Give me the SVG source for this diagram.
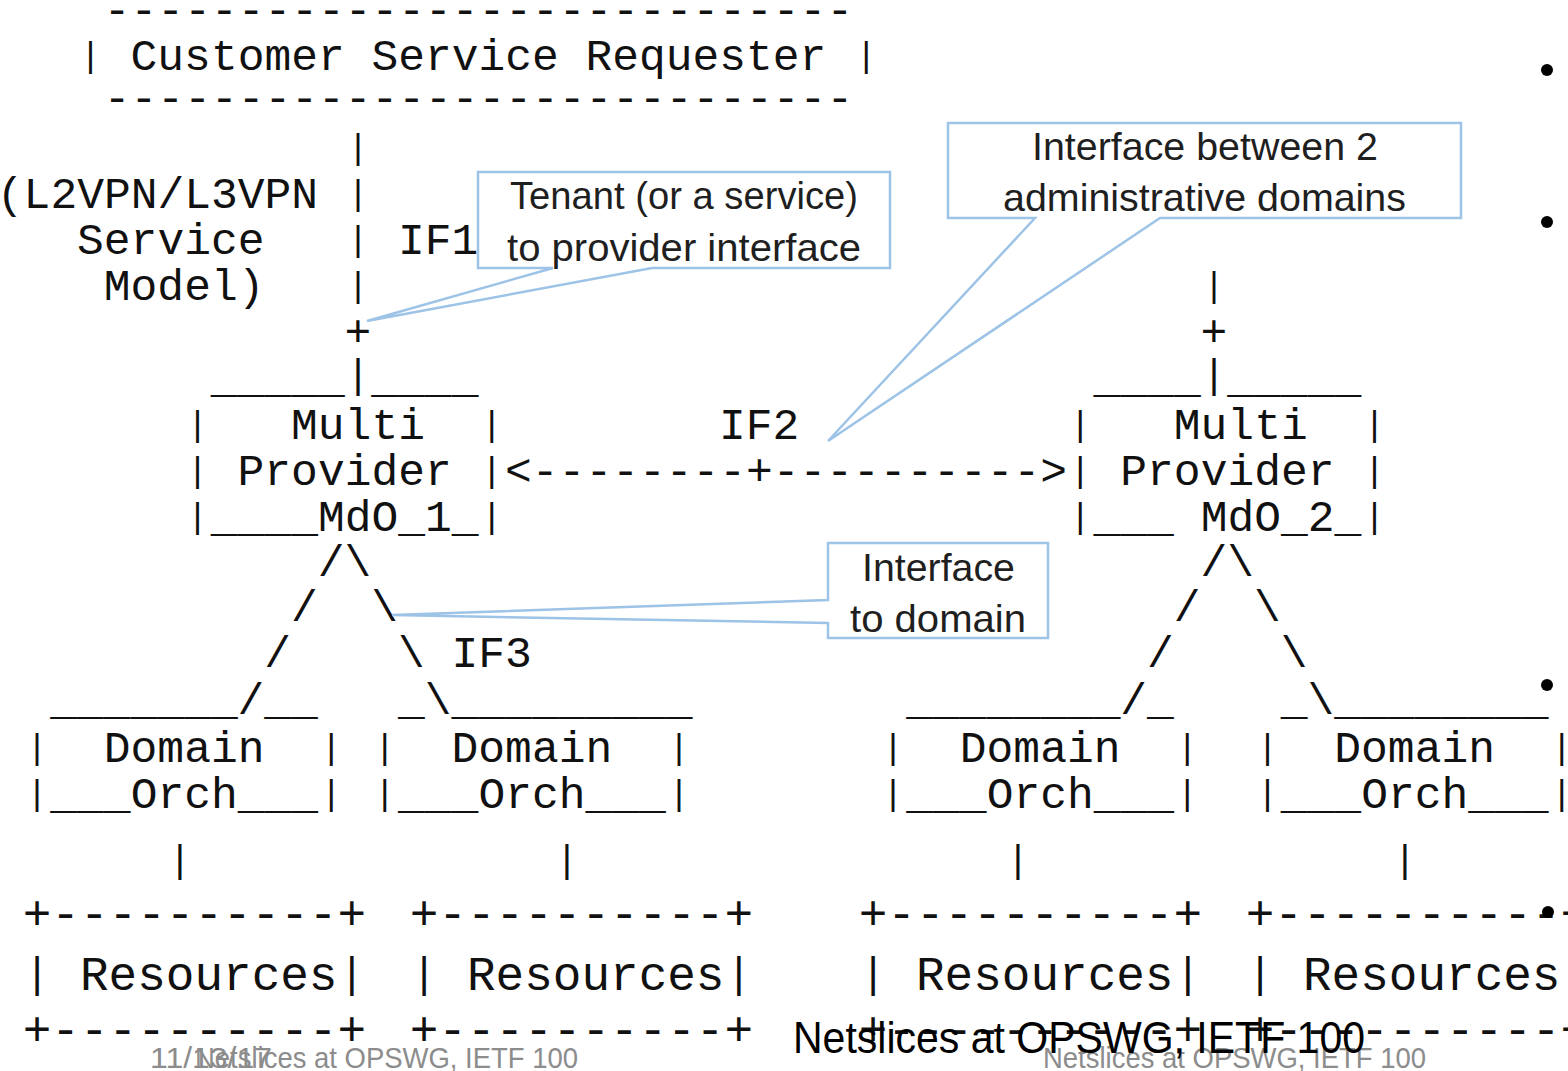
<svg xmlns="http://www.w3.org/2000/svg" width="1568" height="1071" viewBox="0 0 1568 1071">
<style>
.m{font-family:"Liberation Mono","Courier New",monospace;font-size:44.6px;fill:#111;white-space:pre}
.mb{font-family:"Liberation Mono","Courier New",monospace;font-size:47.7px;fill:#111;white-space:pre}
.p{font-family:"Liberation Mono","Courier New",monospace;font-size:35px;fill:#111;text-anchor:middle}
.pl{font-family:"Liberation Mono","Courier New",monospace;font-size:40px;fill:#111;text-anchor:middle}
.pb{font-family:"Liberation Mono","Courier New",monospace;font-size:42px;fill:#111;text-anchor:middle}
.ps{font-family:"Liberation Mono","Courier New",monospace;font-size:38px;fill:#111;text-anchor:middle}
.cl{fill:#fff;stroke:#9dc3e6;stroke-width:2.5}
.ct{font-family:"Liberation Sans Narrow","Liberation Sans",Arial,sans-serif;font-size:39px;fill:#1f1f1f}
.fg{font-family:"Liberation Sans Narrow","Liberation Sans",Arial,sans-serif;font-size:30px;fill:#8c8c8c}
.fb{font-family:"Liberation Sans Narrow","Liberation Sans",Arial,sans-serif;font-size:45px;fill:#000}
</style>
<rect width="1568" height="1071" fill="#fff"/>

<g id="n-requester">
<text class="m" x="103.85" y="24">----------------------------</text>
<text class="p" x="90.5" y="67">|</text>
<text class="m" x="130.6" y="70">Customer Service Requester</text>
<text class="p" x="866.2" y="67">|</text>
<text class="m" x="103.85" y="112">----------------------------</text>
</g>

<g id="n-service-model">
<text class="m" x="-3.15" y="208">(L2VPN/L3VPN</text>
<text class="m" x="77.1" y="254">Service</text>
<text class="m" x="103.85" y="300">Model)</text>
</g>

<g id="n-mdo1">
<text class="m" x="210.85" y="392">_____</text>
<text class="m" x="371.35" y="392">____</text>
<text class="p" x="197.5" y="436">|</text>
<text class="m" x="291.1" y="439">Multi</text>
<text class="p" x="491.7" y="436">|</text>
<text class="p" x="197.5" y="482">|</text>
<text class="m" x="237.6" y="485">Provider</text>
<text class="p" x="491.7" y="482">|</text>
<text class="p" x="197.5" y="528">|</text>
<text class="m" x="210.85" y="531">____MdO_1_</text>
<text class="p" x="491.7" y="528">|</text>
</g>

<g id="n-mdo2">
<text class="m" x="1093.6" y="392">____</text>
<text class="m" x="1227.35" y="392">_____</text>
<text class="p" x="1080.2" y="436">|</text>
<text class="m" x="1173.85" y="439">Multi</text>
<text class="p" x="1374.5" y="436">|</text>
<text class="p" x="1080.2" y="482">|</text>
<text class="m" x="1120.35" y="485">Provider</text>
<text class="p" x="1374.5" y="482">|</text>
<text class="p" x="1080.2" y="528">|</text>
<text class="m" x="1093.6" y="531" xml:space="preserve">___ MdO_2_</text>
<text class="p" x="1374.5" y="528">|</text>
</g>

<g id="n-domain1">
<text class="m" x="50.35" y="714">_______</text>
<text class="m" x="264.35" y="714">__</text>
<text class="p" x="37" y="759">|</text>
<text class="m" x="103.85" y="762">Domain</text>
<text class="p" x="331.2" y="759">|</text>
<text class="p" x="37" y="805">|</text>
<text class="m" x="50.35" y="808">___Orch___</text>
<text class="p" x="331.2" y="805">|</text>
</g>
<g id="n-domain2">
<text class="m" x="398.1" y="714">_</text>
<text class="m" x="451.6" y="714">_________</text>
<text class="p" x="384.7" y="759">|</text>
<text class="m" x="451.6" y="762">Domain</text>
<text class="p" x="679" y="759">|</text>
<text class="p" x="384.7" y="805">|</text>
<text class="m" x="398.1" y="808">___Orch___</text>
<text class="p" x="679" y="805">|</text>
</g>
<g id="n-domain3">
<text class="m" x="906.35" y="714">________</text>
<text class="m" x="1147.1" y="714">_</text>
<text class="p" x="893" y="759">|</text>
<text class="m" x="959.85" y="762">Domain</text>
<text class="p" x="1187.2" y="759">|</text>
<text class="p" x="893" y="805">|</text>
<text class="m" x="906.35" y="808">___Orch___</text>
<text class="p" x="1187.2" y="805">|</text>
</g>
<g id="n-domain4">
<text class="m" x="1280.85" y="714">_</text>
<text class="m" x="1334.35" y="714">________</text>
<text class="p" x="1267.5" y="759">|</text>
<text class="m" x="1334.35" y="762">Domain</text>
<text class="p" x="1561.7" y="759">|</text>
<text class="p" x="1267.5" y="805">|</text>
<text class="m" x="1280.85" y="808">___Orch___</text>
<text class="p" x="1561.7" y="805">|</text>
</g>

<g id="n-resources1">
<text class="mb" x="22.7" y="929">+----------+</text>
<text class="pb" x="37" y="987">|</text>
<text class="mb" x="79.94" y="990">Resources</text>
<text class="pb" x="351.8" y="987">|</text>
<text class="mb" x="22.7" y="1045">+----------+</text>
</g>
<g id="n-resources2">
<text class="mb" x="409.7" y="929">+----------+</text>
<text class="pb" x="424" y="987">|</text>
<text class="mb" x="466.94" y="990">Resources</text>
<text class="pb" x="738.8" y="987">|</text>
<text class="mb" x="409.7" y="1045">+----------+</text>
</g>
<g id="n-resources3">
<text class="mb" x="858.7" y="929">+----------+</text>
<text class="pb" x="873" y="987">|</text>
<text class="mb" x="915.94" y="990">Resources</text>
<text class="pb" x="1187.8" y="987">|</text>
<text class="mb" x="858.7" y="1045">+----------+</text>
</g>
<g id="n-resources4">
<text class="mb" x="1245.7" y="929">+----------+</text>
<text class="pb" x="1260" y="987">|</text>
<text class="mb" x="1302.94" y="990">Resources</text>
<text class="mb" x="1245.7" y="1045">+----------+</text>
</g>

<g id="connectors">
<text class="p" x="358" y="159">|</text>
<text class="p" x="358" y="205">|</text>
<text class="p" x="358" y="251">|</text>
<text class="p" x="358" y="297">|</text>
<text class="m" x="344.6" y="346">+</text>
<text class="pl" x="358" y="388">|</text>
<text class="m" x="398.1" y="254">IF1</text>
<text class="p" x="1214" y="297">|</text>
<text class="m" x="1200.6" y="346">+</text>
<text class="pl" x="1214" y="388">|</text>
<text class="m" x="505.1" y="485">&lt;--------+----------&gt;</text>
<text class="m" x="719.1" y="439">IF2</text>
<text class="m" x="317.85" y="576">/\</text>
<text class="m" x="291.1" y="621">/</text>
<text class="m" x="371.35" y="621">\</text>
<text class="m" x="264.35" y="667">/</text>
<text class="m" x="398.1" y="667">\</text>
<text class="m" x="451.6" y="667">IF3</text>
<text class="m" x="237.6" y="714">/</text>
<text class="m" x="424.85" y="714">\</text>
<text class="m" x="1200.6" y="576">/\</text>
<text class="m" x="1173.85" y="621">/</text>
<text class="m" x="1254.1" y="621">\</text>
<text class="m" x="1147.1" y="667">/</text>
<text class="m" x="1280.85" y="667">\</text>
<text class="m" x="1120.35" y="714">/</text>
<text class="m" x="1307.6" y="714">\</text>
<text class="ps" x="180" y="872">|</text>
<text class="ps" x="567" y="872">|</text>
<text class="ps" x="1018" y="872">|</text>
<text class="ps" x="1405" y="872">|</text>
</g>

<g id="callout-if1">
<path class="cl" d="M478,172 H890 V268 H652 L367,321 L553,268 H478 Z"/>
<text class="ct" x="510" y="209" textLength="348" lengthAdjust="spacingAndGlyphs">Tenant (or a service)</text>
<text class="ct" x="507" y="261" textLength="354" lengthAdjust="spacingAndGlyphs">to provider interface</text>
</g>
<g id="callout-if2">
<path class="cl" d="M948,123 H1461 V218 H1160 L828,441 L1035,218 H948 Z"/>
<text class="ct" x="1032" y="160" textLength="346" lengthAdjust="spacingAndGlyphs">Interface between 2</text>
<text class="ct" x="1003" y="211" textLength="403" lengthAdjust="spacingAndGlyphs">administrative domains</text>
</g>
<g id="callout-if3">
<path class="cl" d="M828,543 H1048 V638 H828 V623 L392,615 L828,600 Z"/>
<text class="ct" x="862" y="581" textLength="153" lengthAdjust="spacingAndGlyphs">Interface</text>
<text class="ct" x="850" y="632" textLength="176" lengthAdjust="spacingAndGlyphs">to domain</text>
</g>

<g id="footer">
<text class="fg" x="150" y="1068" textLength="122" lengthAdjust="spacingAndGlyphs">11/13/17</text>
<text class="fg" x="195" y="1068" textLength="383" lengthAdjust="spacingAndGlyphs">Netslices at OPSWG, IETF 100</text>
<text class="fg" x="1043" y="1068" textLength="383" lengthAdjust="spacingAndGlyphs">Netslices at OPSWG, IETF 100</text>
<text class="fb" x="793" y="1053" textLength="572" lengthAdjust="spacingAndGlyphs">Netslices at OPSWG, IETF 100</text>
</g>

<g id="bullets" fill="#000">
<circle cx="1547" cy="70" r="6"/>
<circle cx="1547" cy="222" r="6"/>
<circle cx="1547" cy="685" r="6"/>
<circle cx="1548" cy="912" r="6"/>
</g>
</svg>
